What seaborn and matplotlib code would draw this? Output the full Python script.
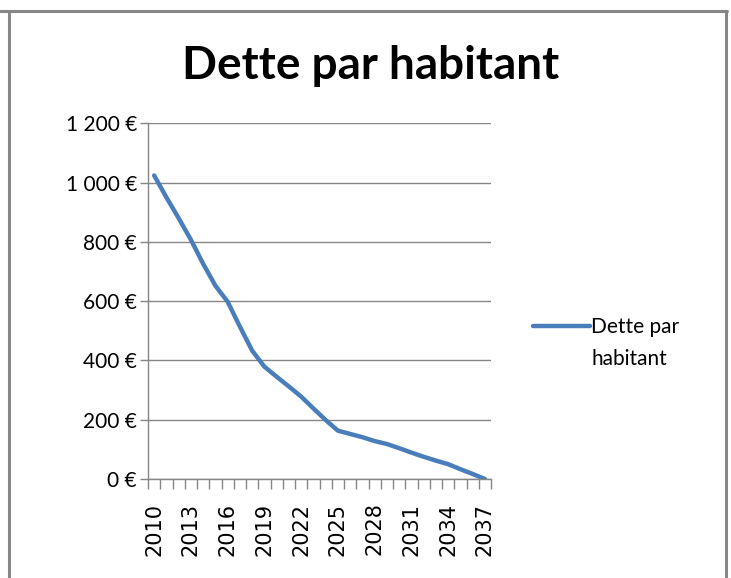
import matplotlib
matplotlib.use("Agg")
import matplotlib.pyplot as plt
from matplotlib.lines import Line2D
from matplotlib.ticker import FuncFormatter, MultipleLocator, FixedLocator
import pandas as pd
import seaborn as sns

years = list(range(2010, 2038))
dette = [1024, 950, 880, 807, 726, 652, 598, 514, 433, 379,
         345, 312, 278, 238, 199, 163, 152, 141, 128, 118,
         104, 89, 75, 62, 50, 33, 17, 0]
serie = "Dette par habitant"

df = pd.DataFrame({"pos": range(len(years)), "annee": years, "dette": dette})

sns.set_style("white")
plt.rcParams["font.family"] = ["Lato", "DejaVu Sans"]
plt.rcParams["text.color"] = "black"

fig = plt.figure(figsize=(7.31, 5.78), dpi=100)
ax = fig.add_axes([0.2025, 0.1713, 0.4692, 0.6154])

sns.lineplot(data=df, x="pos", y="dette", ax=ax, color="#4a7ebb",
             linewidth=3.2, legend=False)

grey = "#868686"
ax.set_ylim(0, 1200)
ax.set_xlim(-0.5, len(years) - 0.5)
ax.yaxis.set_major_locator(MultipleLocator(200))
ax.yaxis.set_major_formatter(
    FuncFormatter(lambda v, p: f"{v:,.0f} €".replace(",", " ")))
ax.grid(axis="y", color=grey, linewidth=1)
ax.tick_params(axis="y", length=6, color=grey, width=1, labelsize=15,
               labelcolor="black", pad=2, left=True)

# category axis: ticks between categories, labels every 3 years
ax.xaxis.set_minor_locator(FixedLocator([i - 0.5 for i in range(len(years) + 1)]))
ax.set_xticks(range(0, len(years), 3))
ax.set_xticklabels([str(y) for y in years[::3]], rotation=90,
                   fontfamily="DejaVu Sans", fontsize=15)
ax.tick_params(axis="x", which="major", length=0, pad=17, labelcolor="black")
ax.tick_params(axis="x", which="minor", length=7, color=grey, width=1,
               bottom=True)
ax.set_xlabel("")
ax.set_ylabel("")

for s in ["top", "right"]:
    ax.spines[s].set_visible(False)
for s in ["left", "bottom"]:
    ax.spines[s].set_color(grey)
    ax.spines[s].set_linewidth(1)

fig.suptitle("Dette par habitant", fontsize=33, fontweight="bold",
             color="black", x=0.507, y=0.922)

# legend: label wrapped on two lines, handle beside the first one
mots = serie.split(" ")
handles = [Line2D([], [], color="#4a7ebb", linewidth=3.2),
           Line2D([], [], color="none")]
labels = [" ".join(mots[:2]), " ".join(mots[2:])]
ax.legend(handles, labels, loc="upper left", bbox_to_anchor=(0.729, 0.451),
          bbox_transform=fig.transFigure, frameon=False, fontsize=15,
          handlelength=2.75, handletextpad=0.05, borderpad=0,
          borderaxespad=0, labelspacing=0.55, labelcolor="black")

# chart area border
for xs, ys in [([0.0, 0.994], [0.981, 0.981]),
               ([0.012, 0.012], [0.0, 0.981]),
               ([0.993, 0.993], [0.0, 0.981])]:
    fig.add_artist(Line2D(xs, ys, color=grey, linewidth=2.2,
                          transform=fig.transFigure))

fig.savefig("out.png", dpi=100, facecolor="white")
